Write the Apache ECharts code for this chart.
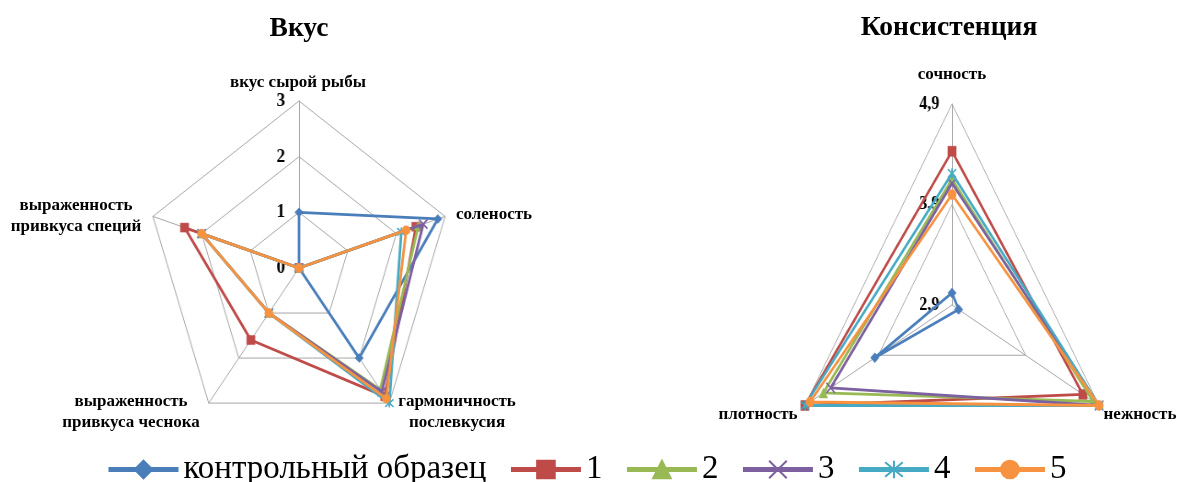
<!DOCTYPE html>
<html>
<head>
<meta charset="utf-8">
<script src="https://cdn.jsdelivr.net/npm/echarts@6/dist/echarts.min.js"></script>
<style>
  html, body { margin: 0; padding: 0; background: #fff; }
  #stage { position: relative; width: 1177px; height: 482px; overflow: hidden; }
  .layer { position: absolute; left: 0; top: 0; width: 1177px; height: 482px; }
  /* the two radars are drawn slightly narrower than they are tall */
  #taste { transform: scaleX(0.92); transform-origin: 299px 0; }
  #texture { transform: scaleX(0.845); transform-origin: 952px 0; }
</style>
</head>
<body>
<div id="stage">
  <div id="taste" class="layer"></div>
  <div id="texture" class="layer"></div>
  <div id="labels" class="layer"></div>
</div>
<script>
// ---- data ----
const seriesNames = ['контрольный образец', '1', '2', '3', '4', '5'];

// "Вкус": axes listed clockwise starting from the top
const tasteAxes = ['вкус сырой рыбы', 'соленость', 'гармоничность\nпослевкусия',
                   'выраженность\nпривкуса чеснока', 'выраженность\nпривкуса специй'];
const tasteTicks = [0, 1, 2, 3];
const tasteControl = [1, 2.85, 2, 0, 0];
const taste1 = [0, 2.4, 2.85, 1.6, 2.35];
const taste2 = [0, 2.45, 2.7, 1, 2];
const taste3 = [0, 2.55, 2.75, 1, 2];
const taste4 = [0, 2.1, 3, 1, 2];
const taste5 = [0, 2.2, 2.9, 1, 2];

// "Консистенция": axes listed clockwise starting from the top
const textureAxes = ['сочность', 'нежность', 'плотность'];
const textureTicks = [2.9, 3.9, 4.9];
const textureControl = [3.02, 2.99, 3.95];
const texture1 = [4.43, 4.68, 4.9];
const texture2 = [4.15, 4.82, 4.65];
const texture3 = [4.11, 4.9, 4.55];
const texture4 = [4.21, 4.9, 4.9];
const texture5 = [4.0, 4.9, 4.83];

// ---- styling ----
const colors = ['#4A7EBB', '#BE4B48', '#98B954', '#7D60A0', '#46AAC5', '#F69240'];
const symbols = ['diamond', 'rect', 'triangle',
                 'path://M0,0L10,10M10,0L0,10',
                 'path://M0,0L10,10M10,0L0,10M5,-1L5,11',
                 'circle'];
const strokeOnly = [false, false, false, true, true, false];
const serif = 'Liberation Serif';
const gridGray = '#A6A6A6';

// ECharts places radar axes counter-clockwise, so keep the first and reverse the rest
const ccw = arr => [arr[0]].concat(arr.slice(1).reverse());

function itemStyleFor(i, strokeW) {
  return strokeOnly[i]
    ? { color: colors[i], borderColor: colors[i], borderWidth: strokeW }
    : { color: colors[i], borderColor: colors[i], borderWidth: 0.5 };
}

function radarOption(axes, ticks, rows, center, radius, symbolSize, tickFmt) {
  const min = ticks[0], max = ticks[ticks.length - 1];
  const indicator = ccw(axes).map((name, k) => {
    const ind = { name: name, min: min, max: max };
    if (k === 0) {
      ind.axisLabel = {
        show: true, margin: 15, color: '#000', fontFamily: serif,
        fontSize: 19, fontWeight: 'bold', formatter: tickFmt
      };
    }
    return ind;
  });
  return {
    animation: false,
    radar: {
      center: center, radius: radius, startAngle: 90,
      shape: 'polygon', splitNumber: ticks.length - 1,
      indicator: indicator,
      axisName: { show: false },
      axisLine: { lineStyle: { color: gridGray, width: 1 } },
      splitLine: { lineStyle: { color: gridGray, width: 1 } },
      splitArea: { show: false },
      axisTick: { show: false },
      axisLabel: { show: false }
    },
    series: rows.map((vals, i) => ({
      type: 'radar',
      name: seriesNames[i],
      symbol: symbols[i],
      symbolSize: symbolSize,
      lineStyle: { color: colors[i], width: 2.8 },
      itemStyle: itemStyleFor(i, 1.6),
      z: 2 + i,
      data: [{ value: ccw(vals), name: seriesNames[i] }]
    }))
  };
}

const tasteChart = echarts.init(document.getElementById('taste'), null, { renderer: 'canvas' });
tasteChart.setOption(radarOption(
  tasteAxes, tasteTicks,
  [tasteControl, taste1, taste2, taste3, taste4, taste5],
  [299, 268], 167, 9, v => String(v)
));

const textureChart = echarts.init(document.getElementById('texture'), null, { renderer: 'canvas' });
textureChart.setOption(radarOption(
  textureAxes, textureTicks,
  [textureControl, texture1, texture2, texture3, texture4, texture5],
  [952, 305], 201, 10, v => (Math.round(v * 10) / 10).toFixed(1).replace('.', ',')
));

// ---- titles, axis names and the shared legend ----
const titleSpots = [
  { text: 'Вкус', x: 299, y: 29 },
  { text: 'Консистенция', x: 949, y: 28 }
];
const nameSpots = [
  { x: 298, y: 83 },   // вкус сырой рыбы
  { x: 494, y: 215 },  // соленость
  { x: 457, y: 412 },  // гармоничность послевкусия
  { x: 131, y: 412 },  // выраженность привкуса чеснока
  { x: 76, y: 216 },   // выраженность привкуса специй
  { x: 952, y: 75 },   // сочность
  { x: 1140, y: 415 }, // нежность
  { x: 758, y: 415 }   // плотность
];
const allNames = tasteAxes.concat(textureAxes);

const graphics = titleSpots.map(t => ({
  type: 'text', x: t.x, y: t.y,
  style: { text: t.text, fontFamily: serif, fontSize: 27.5, fontWeight: 'bold',
           fill: '#000', align: 'center', verticalAlign: 'middle' }
})).concat(allNames.map((name, k) => ({
  type: 'text', x: nameSpots[k].x, y: nameSpots[k].y,
  style: { text: name, fontFamily: serif, fontSize: 17, fontWeight: 'bold',
           lineHeight: 21, fill: '#000', align: 'center', verticalAlign: 'middle' }
})));

const labelChart = echarts.init(document.getElementById('labels'), null, { renderer: 'canvas' });
labelChart.setOption({
  animation: false,
  grid: { left: 0, top: 0, width: 10, height: 10, show: false },
  xAxis: { type: 'value', show: false },
  yAxis: { type: 'value', show: false },
  graphic: graphics,
  legend: {
    left: 106, top: 453, padding: 0,
    itemWidth: 70, itemHeight: 22, itemGap: 22,
    lineStyle: { width: 5 },
    textStyle: { fontFamily: serif, fontSize: 33, color: '#000' },
    data: seriesNames
  },
  // legend entries share the look of the radar series
  series: seriesNames.map((name, i) => ({
    type: 'line', name: name, data: [],
    symbol: symbols[i], symbolSize: 18,
    lineStyle: { color: colors[i], width: 5 },
    itemStyle: itemStyleFor(i, 2.2)
  }))
});
</script>
</body>
</html>
